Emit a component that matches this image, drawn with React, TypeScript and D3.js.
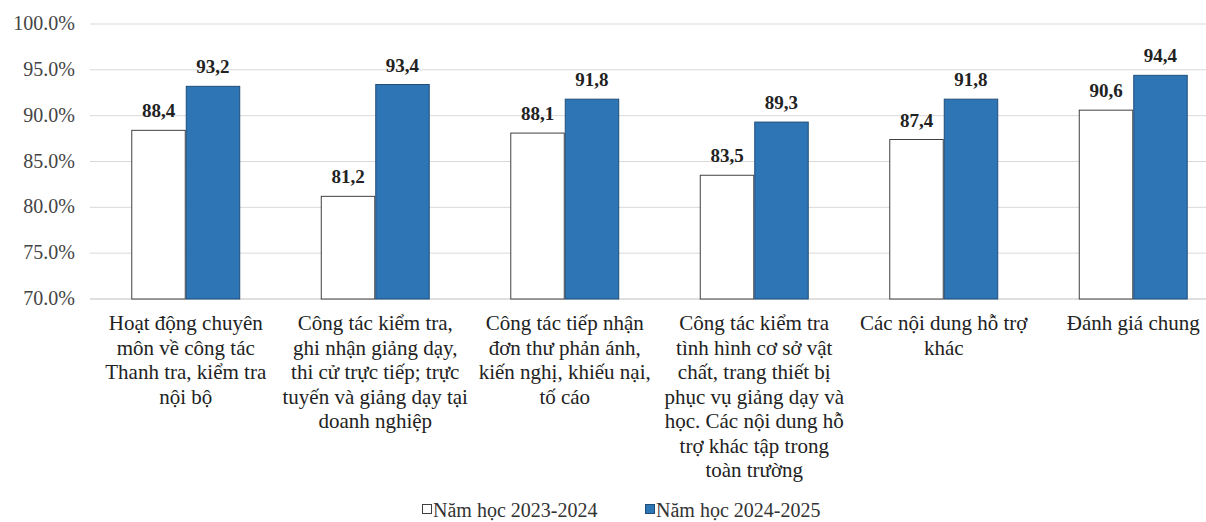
import * as d3 from 'd3'

// categories, split into the lines shown under each group
const categories = [
  ['Hoạt động chuyên', 'môn về công tác', 'Thanh tra, kiểm tra', 'nội bộ'],
  ['Công tác kiểm tra,', 'ghi nhận giảng dạy,', 'thi cử trực tiếp; trực', 'tuyến và giảng dạy tại', 'doanh nghiệp'],
  ['Công tác tiếp nhận', 'đơn thư phản ánh,', 'kiến nghị, khiếu nại,', 'tố cáo'],
  ['Công tác kiểm tra', 'tình hình cơ sở vật', 'chất, trang thiết bị', 'phục vụ giảng dạy và', 'học. Các nội dung hỗ', 'trợ khác tập trong', 'toàn trường'],
  ['Các nội dung hỗ trợ', 'khác'],
  ['Đánh giá chung'],
]
const series = ['Năm học 2023-2024', 'Năm học 2024-2025']
const values2324 = [88.4, 81.2, 88.1, 83.5, 87.4, 90.6]
const values2425 = [93.2, 93.4, 91.8, 89.3, 91.8, 94.4]
const yTicks = [70, 75, 80, 85, 90, 95, 100]

const W = 1206
const H = 522
const font = "'Liberation Serif', Tinos, 'Times New Roman', 'DejaVu Serif', serif"

export default function App() {
  const x0 = d3
    .scaleBand<number>()
    .domain(categories.map((_, i) => i))
    .range([91, 1228])
    .paddingInner(0.425)
    .paddingOuter(0.2125)
  const x1 = d3.scaleBand<number>().domain([0, 1]).range([0, x0.bandwidth()])
  const y = d3.scaleLinear().domain([70, 100]).range([299, 24])

  const fills = ['#ffffff', '#2e75b6']
  const strokes = ['#404040', '#1f4e79']
  const data = [values2324, values2425]
  const txt = { fontFamily: font }

  return (
    <svg width={W} height={H} style={{ position: 'absolute', left: 0, top: 0, background: '#fff' }}>
      {/* gridlines and y labels */}
      {yTicks.map((t) => (
        <g key={t}>
          <line x1={90} x2={W} y1={y(t)} y2={y(t)} stroke={t === 70 ? '#bfbfbf' : '#d9d9d9'} strokeWidth={1} />
          <text x={75} y={y(t)} dy="0.3em" textAnchor="end" style={txt} fontSize={20} fill="#444">
            {d3.format('.1f')(t) + '%'}
          </text>
        </g>
      ))}

      {/* bars */}
      {data.map((vals, s) =>
        vals.map((v, i) => {
          const bx = (x0(i) as number) + (x1(s) as number)
          return (
            <g key={s + '-' + i}>
              <rect
                x={bx + 0.5}
                y={y(v)}
                width={x1.bandwidth() - 1}
                height={y(70) - y(v)}
                fill={fills[s]}
                stroke={strokes[s]}
                strokeWidth={1}
              />
              <text
                x={bx + x1.bandwidth() / 2}
                y={y(v) - 13}
                textAnchor="middle"
                style={txt}
                fontSize={19}
                fontWeight="bold"
                fill="#222"
              >
                {d3.format('.1f')(v).replace('.', ',')}
              </text>
            </g>
          )
        })
      )}

      {/* category labels */}
      {categories.map((lines, i) => {
        const cx = (x0(i) as number) + x0.bandwidth() / 2
        return (
          <text key={i} x={cx} y={330} textAnchor="middle" style={txt} fontSize={21} fill="#222">
            {lines.map((l, j) => (
              <tspan key={j} x={cx} dy={j === 0 ? 0 : 24.5}>
                {l}
              </tspan>
            ))}
          </text>
        )
      })}

      {/* legend */}
      {series.map((name, s) => {
        const lx = s === 0 ? 422 : 645
        return (
          <g key={name}>
            <rect x={lx + 0.5} y={504.5} width={9} height={9} fill={fills[s]} stroke={strokes[s]} strokeWidth={1} />
            <text x={lx + 11} y={517} style={txt} fontSize={20} fill="#333">
              {name}
            </text>
          </g>
        )
      })}
    </svg>
  )
}
